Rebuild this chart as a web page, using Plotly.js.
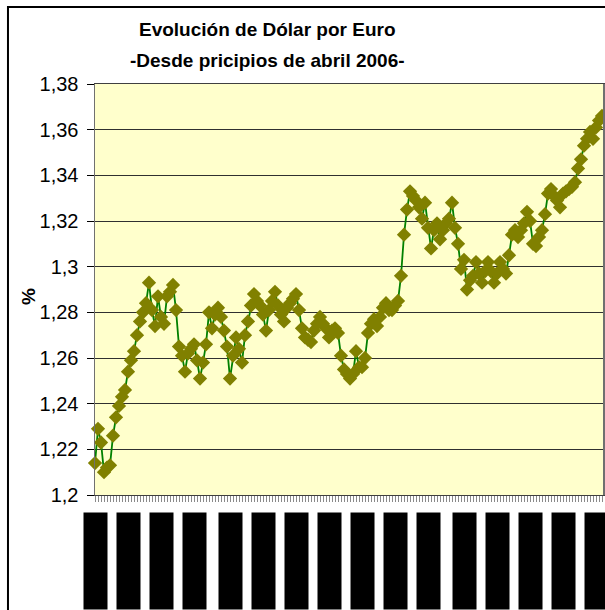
<!DOCTYPE html>
<html>
<head>
<meta charset="utf-8">
<script src="https://cdn.plot.ly/plotly-3.0.1.min.js"></script>
<style>
body { margin: 0; background: #fff; }
#grafico { width: 605px; height: 610px; }
</style>
</head>
<body>
<div id="grafico"></div>
<script>
// dolares por euro, una cotizacion por sesion desde abril 2006
var cotizacion = [
    1.214, 1.229, 1.223, 1.210, 1.212, 1.213, 1.226, 1.234, 1.239, 1.243,
    1.246, 1.254, 1.259, 1.263, 1.270, 1.276, 1.280, 1.284, 1.293, 1.281,
    1.274, 1.287, 1.278, 1.275, 1.287, 1.289, 1.292, 1.281, 1.265, 1.261,
    1.254, 1.262, 1.264, 1.266, 1.259, 1.251, 1.258, 1.266, 1.280, 1.273,
    1.279, 1.282, 1.278, 1.272, 1.265, 1.251, 1.261, 1.269, 1.264, 1.258,
    1.270, 1.276, 1.283, 1.288, 1.285, 1.283, 1.279, 1.272, 1.281, 1.285,
    1.289, 1.283, 1.279, 1.276, 1.282, 1.284, 1.286, 1.288, 1.281, 1.273,
    1.269, 1.268, 1.267, 1.272, 1.275, 1.278, 1.275, 1.273, 1.269, 1.272,
    1.273, 1.271, 1.261, 1.255, 1.253, 1.251, 1.253, 1.263, 1.256, 1.256,
    1.260, 1.271, 1.275, 1.277, 1.274, 1.278, 1.282, 1.284, 1.281, 1.281,
    1.283, 1.285, 1.296, 1.314, 1.325, 1.333, 1.331, 1.329, 1.326, 1.321,
    1.328, 1.317, 1.308, 1.316, 1.319, 1.312, 1.316, 1.319, 1.321, 1.328,
    1.317, 1.310, 1.299, 1.303, 1.290, 1.294, 1.296, 1.302, 1.297, 1.293,
    1.298, 1.302, 1.298, 1.293, 1.297, 1.302, 1.299, 1.297, 1.305, 1.314,
    1.316, 1.313, 1.316, 1.319, 1.324, 1.320, 1.310, 1.309, 1.313, 1.316,
    1.323, 1.332, 1.334, 1.331, 1.329, 1.326, 1.332, 1.333, 1.334, 1.335,
    1.337, 1.343, 1.347, 1.353, 1.356, 1.359, 1.356, 1.361, 1.364, 1.366
];

// etiquetas del eje x (fecha de la sesion)
var fechas = [
    '03/04/2006', '28/04/2006', '23/05/2006', '16/06/2006', '12/07/2006', '04/08/2006',
    '30/08/2006', '22/09/2006', '18/10/2006', '10/11/2006', '06/12/2006', '02/01/2007',
    '25/01/2007', '19/02/2007', '14/03/2007', '09/04/2007'
];
var sesionFechas = [0, 11, 22, 33, 45, 56, 67, 78, 89, 100, 111, 123, 134, 145, 156, 167];

var yValores = [1.2, 1.22, 1.24, 1.26, 1.28, 1.3, 1.32, 1.34, 1.36, 1.38];
var yTextos = ['1,2', '1,22', '1,24', '1,26', '1,28', '1,3', '1,32', '1,34', '1,36', '1,38'];

var sesiones = cotizacion.map(function(v, i) { return i; });

var fuente = 'Liberation Sans, Arial, sans-serif';

var traza = {
    x: sesiones,
    y: cotizacion,
    type: 'scatter',
    mode: 'lines+markers',
    cliponaxis: false,
    line: { color: '#008000', width: 1.8 },
    marker: { symbol: 'diamond', size: 11, color: '#808000' },
    hoverinfo: 'y'
};

// las fechas del eje salen como bloques negros (texto negro sobre fondo negro)
var etiquetas = fechas.map(function(f, i) {
    return {
        text: f, x: sesionFechas[i], xref: 'x', y: 0, yref: 'paper',
        xanchor: 'center', yanchor: 'top', yshift: -17,
        textangle: -90, showarrow: false,
        width: 92, height: 19, borderpad: 2,
        bgcolor: '#000000',
        font: { family: fuente, size: 13, color: '#000000' }
    };
});

var anotaciones = etiquetas.concat([
    { text: '<b>Evolución de Dólar por Euro</b>', xref: 'paper', yref: 'paper',
      x: 0.3386, y: 1.1338, xanchor: 'center', yanchor: 'middle', showarrow: false,
      font: { family: fuente, size: 19, color: '#000' } },
    { text: '<b>-Desde pricipios de abril 2006-</b>', xref: 'paper', yref: 'paper',
      x: 0.3386, y: 1.056, xanchor: 'center', yanchor: 'middle', showarrow: false,
      font: { family: fuente, size: 19, color: '#000' } },
    { text: '<b>%</b>', xref: 'paper', yref: 'paper',
      x: -0.1319, y: 0.484, xanchor: 'center', yanchor: 'middle', showarrow: false,
      textangle: -90, font: { family: fuente, size: 19, color: '#000' } }
]);

var layout = {
    width: 605,
    height: 610,
    margin: { l: 95, r: 2, t: 84, b: 115, pad: 0 },
    paper_bgcolor: '#ffffff',
    plot_bgcolor: '#ffffcc',
    showlegend: false,
    font: { family: fuente, size: 20, color: '#000' },
    xaxis: {
        range: [0, 169.33],
        tickmode: 'linear', tick0: 0, dtick: 1,
        ticks: 'outside', ticklen: 6, tickwidth: 1, tickcolor: '#8a8a8a',
        showticklabels: false,
        showgrid: false, zeroline: false,
        showline: true, linecolor: '#404040', linewidth: 1, mirror: true
    },
    yaxis: {
        range: [1.2, 1.38],
        tickmode: 'array', tickvals: yValores, ticktext: yTextos,
        ticks: 'outside', ticklen: 7, tickwidth: 1, tickcolor: '#000',
        ticklabelstandoff: 4,
        tickfont: { family: fuente, size: 20, color: '#000' },
        showgrid: true, gridcolor: '#303030', gridwidth: 1,
        zeroline: false,
        showline: true, linecolor: '#707070', linewidth: 1.5, mirror: true
    },
    shapes: [
        { type: 'rect', xref: 'paper', yref: 'paper',
          x0: -0.1713, x1: 1.1, y0: -0.4, y1: 1.1873,
          line: { color: '#000', width: 2 }, fillcolor: 'rgba(0,0,0,0)', layer: 'below' }
    ],
    annotations: anotaciones
};

Plotly.newPlot('grafico', [traza], layout, { displayModeBar: false, staticPlot: true });
</script>
</body>
</html>
